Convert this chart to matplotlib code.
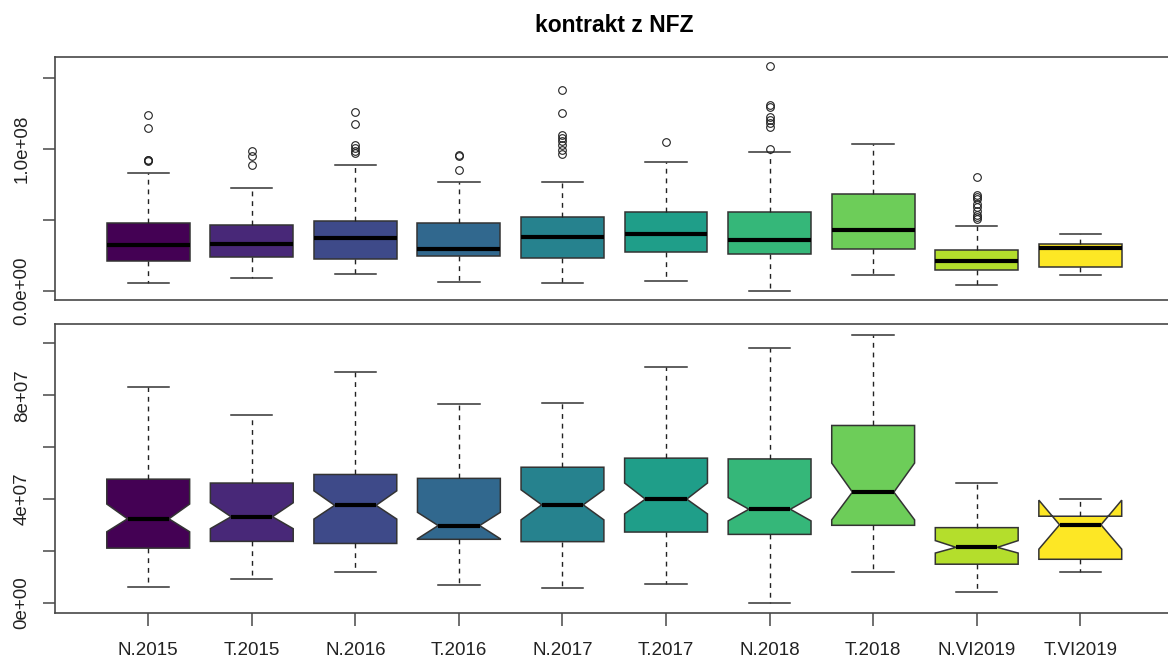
import matplotlib
matplotlib.use('Agg')
import matplotlib.pyplot as plt
import numpy as np

# ---- data (values in units of 1e7) ----
categories = ['N.2015', 'T.2015', 'N.2016', 'T.2016', 'N.2017',
              'T.2017', 'N.2018', 'T.2018', 'N.VI2019', 'T.VI2019']
whislo = [0.59, 0.90, 1.19, 0.66, 0.57, 0.71, 0.00, 1.16, 0.40, 1.16]
q1     = [2.10, 2.36, 2.28, 2.44, 2.35, 2.72, 2.63, 2.98, 1.48, 1.67]
med    = [3.23, 3.31, 3.75, 2.97, 3.77, 3.99, 3.60, 4.26, 2.13, 3.00]
q3     = [4.76, 4.61, 4.94, 4.79, 5.22, 5.57, 5.54, 6.83, 2.89, 3.33]
whishi = [8.33, 7.22, 8.90, 7.65, 7.69, 9.08, 9.80, 10.32, 4.60, 4.00]
notch_lo = [2.73, 2.85, 3.22, 2.46, 3.19, 3.42, 3.15, 3.19, 1.91, 2.06]
notch_hi = [3.80, 3.85, 4.31, 3.48, 4.35, 4.61, 4.05, 5.38, 2.39, 3.95]
outliers = [
    [12.37, 11.48, 9.25, 9.18, 9.22],
    [9.84, 9.49, 8.87],
    [12.58, 11.74, 10.26, 10.03, 9.85, 9.68],
    [9.58, 9.53, 8.50],
    [14.13, 12.51, 11.00, 10.80, 10.56, 10.26, 9.91, 9.65],
    [10.50],
    [15.85, 13.08, 12.92, 12.25, 12.02, 11.79, 11.55, 10.00],
    [],
    [8.03, 6.74, 6.60, 6.46, 6.15, 5.92, 5.60, 5.33, 5.21, 5.10],
    [],
]
scale = 1e7
colors = ['#440154', '#482878', '#3E4A89', '#31688E', '#26828E',
          '#1F9E89', '#35B779', '#6DCD59', '#B4DE2C', '#FDE725']

title = 'kontrakt z NFZ'
top_ticks = [0, 5e7, 1e8, 1.5e8]
top_ticklabels = ['0.0e+00', '', '1.0e+08', '']
bottom_ticks = [0, 2e7, 4e7, 6e7, 8e7, 1e8]
bottom_ticklabels = ['0e+00', '', '4e+07', '', '8e+07', '']

plt.rcParams['font.family'] = ['Liberation Sans', 'DejaVu Sans']

fig = plt.figure(figsize=(11.68, 6.61), dpi=100)
ax1 = fig.add_axes([0.0471, 0.5461, 0.9576, 0.3681])
ax2 = fig.add_axes([0.0471, 0.0722, 0.9576, 0.4372])

edge = '#333333'
axcol = '#484848'
positions = np.arange(1, len(categories) + 1)


def make_stats(with_fliers):
    st = []
    for i, c in enumerate(categories):
        st.append(dict(
            label=c,
            whislo=whislo[i] * scale, q1=q1[i] * scale, med=med[i] * scale,
            q3=q3[i] * scale, whishi=whishi[i] * scale,
            cilo=notch_lo[i] * scale, cihi=notch_hi[i] * scale,
            fliers=np.array(outliers[i]) * scale if with_fliers else np.array([]),
        ))
    return st


def draw(ax, notch, with_fliers):
    res = ax.bxp(make_stats(with_fliers), positions=positions, widths=0.8,
                 patch_artist=True, shownotches=notch, showfliers=with_fliers,
                 boxprops=dict(edgecolor=edge, linewidth=1.1),
                 whiskerprops=dict(color='#222222', linewidth=1.0, linestyle=(0, (3.5, 3.5))),
                 capprops=dict(color=edge, linewidth=1.1),
                 medianprops=dict(color='black', linewidth=3.0, solid_capstyle='butt'),
                 flierprops=dict(marker='o', markerfacecolor='none',
                                 markeredgecolor='#222222', markersize=5.5,
                                 markeredgewidth=0.8, linestyle='none'))
    for patch, col in zip(res['boxes'], colors):
        patch.set_facecolor(col)
    return res


draw(ax1, False, True)
draw(ax2, True, False)

# y limits like R: data range extended by 4%
all_top = [v for lst in outliers for v in lst] + whislo + whishi
lo, hi = min(all_top) * scale, max(all_top) * scale
ax1.set_ylim(lo - 0.04 * (hi - lo), hi + 0.04 * (hi - lo))
lo2, hi2 = min(whislo) * scale, max(whishi) * scale
ax2.set_ylim(lo2 - 0.04 * (hi2 - lo2), hi2 + 0.04 * (hi2 - lo2))

for ax in (ax1, ax2):
    ax.set_xlim(0.1, 10.9)
    for s in ax.spines.values():
        s.set_color(axcol)
        s.set_linewidth(1.2)
    ax.tick_params(axis='both', direction='out', length=9, width=1.1,
                   color=axcol, labelsize=13.5, labelcolor='#222222')
    ax.tick_params(axis='y', pad=8.5)

ax1.set_xticks([])
ax1.set_yticks(top_ticks)
ax1.set_yticklabels(top_ticklabels, rotation=90, va='center')
ax2.set_yticks(bottom_ticks)
ax2.set_yticklabels(bottom_ticklabels, rotation=90, va='center')
ax2.set_xticks(positions)
ax2.set_xticklabels(categories)
ax2.tick_params(axis='x', pad=12)

fig.text(614 / 1168, 1 - 32 / 661, title, ha='center', va='baseline',
         fontsize=16.5, fontweight='bold')

fig.savefig('out.png', dpi=100)
